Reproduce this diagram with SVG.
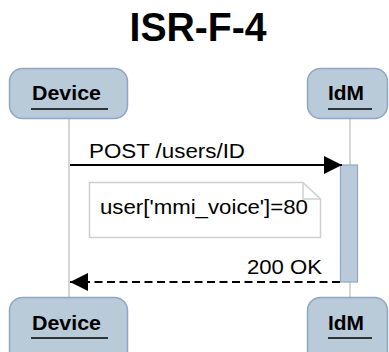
<svg xmlns="http://www.w3.org/2000/svg" width="389" height="352" viewBox="0 0 389 352">
<style>
.actor{fill:#b9cad9;stroke:#8fa7c5;stroke-width:1.5}
.aname{font-family:"Liberation Sans",Arial,sans-serif;font-weight:bold;font-size:20px;fill:#000}
.uline{stroke:#000;stroke-width:1.5}
.life{stroke:#c8c8c8;stroke-width:1.5}
.msg{font-family:"Liberation Sans",Arial,sans-serif;font-size:20px;fill:#000}
.act{fill:#b9cad9;stroke:#8fa7c5;stroke-width:1.2}
.note{fill:#fff;stroke:#cfcfcf;stroke-width:1.5}
</style>
<defs>
<marker id="ah" markerWidth="18" markerHeight="18" refX="18" refY="9" orient="auto" markerUnits="userSpaceOnUse">
<path d="M0,0 L18,9 L0,18 Z" fill="#000"/>
</marker>
</defs>
<rect width="389" height="352" fill="#fff"/>
<text x="198" y="41" text-anchor="middle" font-family="'Liberation Sans',Arial,sans-serif" font-weight="bold" font-size="40" textLength="137" lengthAdjust="spacingAndGlyphs">ISR-F-4</text>
<g id="lifelines">
<line class="life" x1="69" y1="118" x2="69" y2="298"/>
<line class="life" x1="350" y1="118" x2="350" y2="298"/>
</g>
<g id="device-top">
<rect class="actor" x="9.5" y="68.5" width="118" height="50" rx="13"/>
<text class="aname" x="32" y="100" textLength="69" lengthAdjust="spacingAndGlyphs">Device</text>
<line class="uline" x1="31" y1="109" x2="108" y2="109"/>
</g>
<g id="idm-top">
<rect class="actor" x="307.5" y="68.5" width="80" height="50" rx="13"/>
<text class="aname" x="328" y="100" textLength="36" lengthAdjust="spacingAndGlyphs">IdM</text>
<line class="uline" x1="328" y1="109" x2="372" y2="109"/>
</g>
<g id="activation">
<rect class="act" x="340.5" y="165" width="17" height="117"/>
</g>
<g id="note">
<path class="note" d="M89.5,182.5 H303 L320.5,199 V237.5 H89.5 Z"/>
<path d="M303,182.5 V199 H320.5" fill="none" stroke="#cfcfcf" stroke-width="1.5"/>
<text class="msg" x="100" y="214" textLength="208" lengthAdjust="spacingAndGlyphs">user['mmi_voice']=80</text>
</g>
<g id="connectors">
<line x1="70" y1="165" x2="342" y2="165" stroke="#000" stroke-width="1.8" marker-end="url(#ah)"/>
<text class="msg" x="89" y="158" textLength="156" lengthAdjust="spacingAndGlyphs">POST /users/ID</text>
<line x1="340" y1="282" x2="70" y2="282" stroke="#000" stroke-width="1.8" stroke-dasharray="8,4.5" marker-end="url(#ah)"/>
<text class="msg" x="247" y="274" textLength="75" lengthAdjust="spacingAndGlyphs">200 OK</text>
</g>
<g id="device-bottom">
<rect class="actor" x="9.5" y="297.5" width="118" height="70" rx="13"/>
<text class="aname" x="32" y="330" textLength="69" lengthAdjust="spacingAndGlyphs">Device</text>
<line class="uline" x1="31" y1="338" x2="108" y2="338"/>
</g>
<g id="idm-bottom">
<rect class="actor" x="307.5" y="297.5" width="80" height="70" rx="13"/>
<text class="aname" x="328" y="330" textLength="36" lengthAdjust="spacingAndGlyphs">IdM</text>
<line class="uline" x1="328" y1="338" x2="372" y2="338"/>
</g>
</svg>
